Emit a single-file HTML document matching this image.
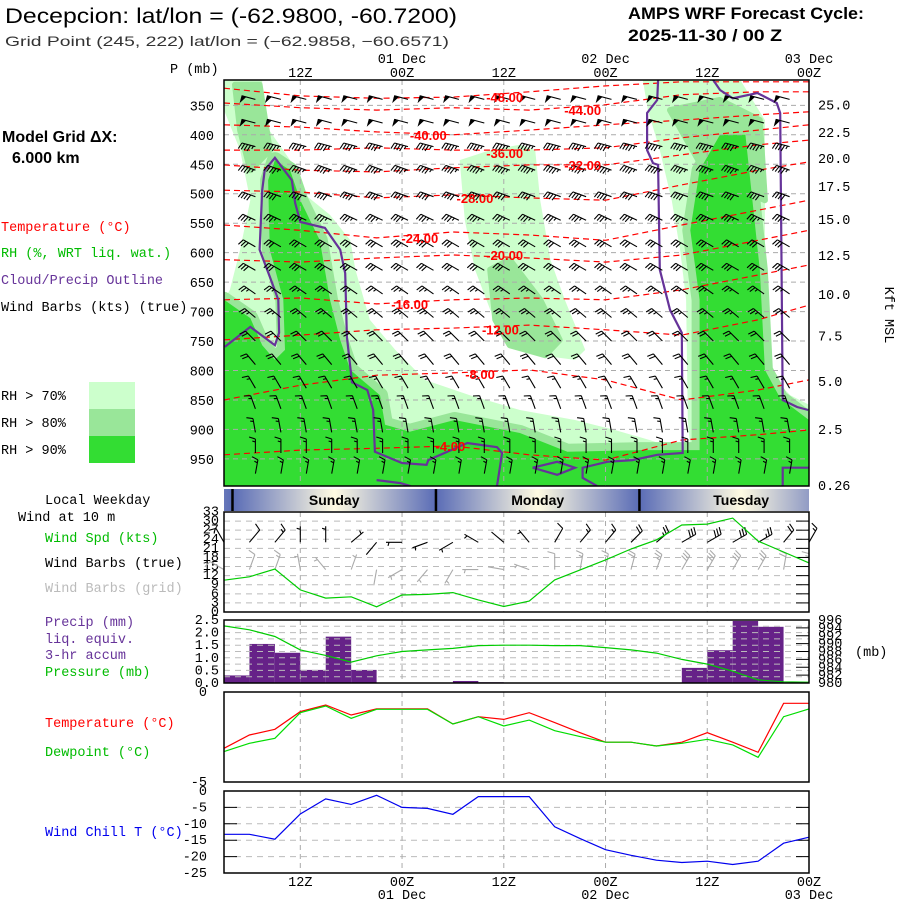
<!DOCTYPE html>
<html><head><meta charset="utf-8"><title>AMPS WRF Meteogram Decepcion</title>
<style>
html,body{margin:0;padding:0;background:#fff;}
svg{display:block;}
.m{font-family:"Liberation Mono","DejaVu Sans Mono",monospace;font-size:13.5px;}
.s{font-family:"Liberation Sans",sans-serif;}
</style></head>
<body>
<svg id="chart" xmlns="http://www.w3.org/2000/svg" width="900" height="900" viewBox="0 0 900 900">
<defs>
<linearGradient id="dayGrad" x1="0" x2="1" y1="0" y2="0">
<stop offset="0" stop-color="#5a6cb6"/><stop offset="0.5" stop-color="#fffbe2"/><stop offset="1" stop-color="#5a6cb6"/>
</linearGradient>
<clipPath id="mainClip"><rect x="224" y="80" width="585" height="406"/></clipPath>
<clipPath id="dayClip"><rect x="224" y="489" width="585" height="22"/></clipPath>
</defs>
<text class="s" x="5" y="23" font-size="21" textLength="452" lengthAdjust="spacingAndGlyphs">Decepcion:  lat/lon = (-62.9800, -60.7200)</text>
<text class="s" x="5" y="46" font-size="14" fill="#333" textLength="444" lengthAdjust="spacingAndGlyphs">Grid Point (245, 222) lat/lon = (−62.9858, −60.6571)</text>
<text class="s" x="628" y="19" font-size="17" font-weight="bold" textLength="236" lengthAdjust="spacingAndGlyphs">AMPS WRF Forecast Cycle:</text>
<text class="s" x="628" y="41" font-size="17" font-weight="bold" textLength="154" lengthAdjust="spacingAndGlyphs">2025-11-30 / 00  Z</text>
<text class="m" x="170" y="73" font-size="12">P (mb)</text>
<text x="2" y="142" font-size="16" font-weight="bold" style="font-family:'Liberation Sans',sans-serif">Model Grid ΔX:</text>
<text x="12" y="163" font-size="16" font-weight="bold" style="font-family:'Liberation Sans',sans-serif">6.000 km</text>
<text class="m" x="1" y="231" fill="#ff0000">Temperature (°C)</text>
<text class="m" x="1" y="257" fill="#00bb00">RH (%, WRT liq. wat.)</text>
<text class="m" x="1" y="284" fill="#663399">Cloud/Precip Outline</text>
<text class="m" x="1" y="311" fill="#000">Wind Barbs (kts) (true)</text>
<rect x="89" y="382" width="46" height="27" fill="#ccffcc"/>
<rect x="89" y="409" width="46" height="27" fill="#99e699"/>
<rect x="89" y="436" width="46" height="27" fill="#33dd33"/>
<text class="m" x="1" y="400">RH &gt; 70%</text>
<text class="m" x="1" y="427">RH &gt; 80%</text>
<text class="m" x="1" y="454">RH &gt; 90%</text>
<text class="m" x="885" y="315" font-size="12" transform="rotate(90 885 315)" text-anchor="middle">Kft MSL</text>
<text class="m" x="45" y="504">Local Weekday</text>
<text class="m" x="18" y="521" font-size="10">Wind at 10 m</text>
<text class="m" x="45" y="542" fill="#00bb00">Wind Spd (kts)</text>
<text class="m" x="45" y="567">Wind Barbs (true)</text>
<text class="m" x="45" y="592" fill="#bbbbbb">Wind Barbs (grid)</text>
<text class="m" x="45" y="626" fill="#663399">Precip (mm)</text>
<text class="m" x="45" y="643" fill="#663399">liq. equiv.</text>
<text class="m" x="45" y="659" fill="#663399">3-hr accum</text>
<text class="m" x="45" y="676" fill="#00bb00">Pressure (mb)</text>
<text class="m" x="855" y="656">(mb)</text>
<text class="m" x="45" y="727" fill="#ff0000">Temperature (°C)</text>
<text class="m" x="45" y="756" fill="#00bb00">Dewpoint (°C)</text>
<text class="m" x="45" y="836" fill="#0000ee">Wind Chill T (°C)</text>
<g id="plots"></g>
</svg>
<script>
// ---- data ----
const hours=[3,6,9,12,15,18,21,24,27,30,33,36,39,42,45,48,51,54,57,60,63,66,69,72];
const timeTickHours=[12,24,36,48,60,72];
const timeTickLabels=["12Z","00Z","12Z","00Z","12Z","00Z"];
const dateTickHours=[24,48,72];
const dateTickLabels=["01 Dec","02 Dec","03 Dec"];
const pressureTicks=[350,400,450,500,550,600,650,700,750,800,850,900,950];
const heightLabels=["25.0","22.5","20.0","17.5","15.0","12.5","10.0","7.5","5.0","2.5","0.26"];
const heightPressures=[349,395,439,487,543,604,670,741,818,899,994];
const rh70=[[[3,307],[7.5,307],[7.5,375],[10.8,443],[12.6,502],[15.5,536],[17.9,579],[18.5,629],[20.2,714],[23.2,765],[26.7,816],[32,842],[37.9,867],[44.4,884],[49.1,901],[53.2,918],[56.8,935],[58,931],[57.7,884],[57.5,680],[56.8,595],[55.8,511],[54.4,426],[53,358],[52.4,307],[63.9,307],[66.8,375],[66.8,799],[69.8,842],[72,858],[72,996],[3,996],[3,680],[3.7,663],[4.9,595],[6.1,511],[4.9,426],[3,358]],
 [[30.8,443],[34.4,426],[37.9,417],[39.7,426],[40.3,511],[41.5,612],[43.2,680],[45.6,765],[44.4,782],[40.3,774],[36.7,748],[34.4,697],[32.6,629],[31.4,545]]];
const rh80=[[[4.3,315],[7.2,315],[8.4,426],[6.1,460],[4.9,392]],
 [[34.4,629],[36.7,612],[40.3,680],[42.6,748],[40.9,774],[36.7,757],[35,714]],
 [[55.6,358],[61.5,341],[66.2,375],[66.8,511],[60,470]]];
const rh90=[[[3,680],[6.1,711],[7.5,757],[9,782],[10.2,765],[10,680],[8.4,595],[8.2,477],[9,443],[10.8,460],[12,511],[14.3,579],[15.5,680],[16.7,748],[17.9,799],[21.4,842],[22,892],[24.9,904],[30.2,884],[37.9,906],[43.5,938],[52.1,935],[59.1,935],[59.1,680],[58,562],[59.1,460],[61.5,400],[64.5,400],[66.2,629],[66.8,799],[68.6,847],[72,884],[72,996],[3,996]]];
const cloudOutlines=[
 [[3.1,760],[6.1,726],[9,757],[9.5,736],[9.4,680],[8.4,641],[7.2,595],[7.5,494],[7.8,460],[9,439],[11,477],[11.4,516],[12,548],[14.9,558],[16.7,595],[17.3,635],[17.5,743],[18.1,820],[19.9,833],[20.6,867],[20.8,938],[24,957],[26.9,960],[27.1,952],[31.7,923],[35.2,930],[35.8,940],[35.2,996]],
 [[21,986],[23.8,991],[25,996]],
 [[54.2,307],[54.1,341],[52.9,363],[52.9,426],[53.6,448],[54.2,451],[54.4,629],[55.6,697],[57,736],[57.1,940],[54.1,943],[51.2,952],[48.2,955],[45.3,965],[45.3,982],[47,996]],
 [[39.4,965],[42.3,955],[44.4,965],[42.3,977],[39.4,965]],
 [[60.7,307],[61.5,324],[63,338],[65.9,329],[68.2,346],[68.6,363],[68.9,850],[70.6,862],[71.9,867]],
 [[68.9,996],[68.9,965],[72,965]]];
const isoHours=[3,12,21,30,39,48,57,66,72];
const iso48=[321,334,338,336,327,317,310,310,310];
const iso44=[346,354,358,354,358,349,332,327,327];
const iso40=[383,387,395,400,392,383,375,366,361];
const iso36=[426,426,422,426,426,422,405,392,383];
const iso32=[451,460,463,456,451,451,434,417,409];
const iso28=[494,497,507,502,507,511,485,460,446];
const iso24=[553,562,575,565,570,579,553,528,511];
const iso20=[612,616,609,604,609,616,604,579,562];
const iso16=[680,677,687,680,677,680,663,638,621];
const iso12=[748,740,731,728,723,731,740,714,689];
const iso08=[850,825,808,804,799,816,850,833,816];
const iso04=[943,935,932,928,943,952,918,909,901];
const isoLabels=["-48.00","-44.00","-40.00","-36.00","-32.00","-28.00","-24.00","-20.00","-16.00","-12.00","-8.00","-4.00"];
const isoLabelHours=[36.1,45.3,27.1,36.1,45.3,32.6,26.1,36.1,24.9,35.6,33.2,29.7];
const isoLabelPres=[336,358,400,431,451,507,575,604,687,730,806,928];
const barbLevels=[340,380,420,460,505,545,590,630,670,710,750,790,830,865,905,940,975];
const barbSpeed=[50,50,45,45,40,35,30,30,25,25,20,20,15,15,15,15,15];
const barbDir=[285,285,285,290,290,295,300,300,305,310,315,320,330,340,350,0,10];
const weekdayNames=["Sunday","Monday","Tuesday"];
const weekdayStartHours=[4,28,52];
const windSpeed=[10.5,11.6,14.2,7.3,4.6,5,1.7,5.6,5.8,6.4,4,1.8,3.6,10.6,13.9,17.2,20.8,23.8,28.7,29,31,23.4,19.8,16.2];
const windDirTrue=[330,40,40,0,0,50,220,270,250,240,300,310,320,30,40,40,45,50,60,60,60,60,40,30];
const windDirGrid=[300,20,20,350,320,20,190,240,220,210,270,280,290,0,10,10,15,20,30,30,30,30,10,0];
const windTicks=[0,3,6,9,12,15,18,21,24,27,30,33];
const precip=[0.3,1.55,1.2,0.52,1.84,0.52,0,0,0,0.08,0.03,0,0,0,0,0,0,0,0.6,1.3,2.46,2.23,0];
const pressure=[994.5,993.5,991.8,988.4,987,985.3,986.9,988,988.4,988.8,989.5,989.6,989.6,989.5,989.5,989,988.4,987.6,986,984.8,983,980.8,980.3,980.2];
const precipTicks=["0.0","0.5","1.0","1.5","2.0","2.5"];
const pressureTickLabels=[980,982,984,986,988,990,992,994,996];
const temperature=[-3.13,-2.39,-2.07,-1.09,-0.72,-1.28,-0.94,-0.94,-0.94,-1.78,-1.37,-1.52,-1.15,-1.7,-2.26,-2.79,-2.79,-3.0,-2.79,-2.26,-2.79,-3.35,-0.63,-0.63];
const dewpoint=[-3.31,-2.85,-2.57,-1.15,-0.78,-1.46,-0.96,-0.96,-0.96,-1.78,-1.37,-1.89,-1.56,-2.15,-2.48,-2.79,-2.79,-3.0,-2.85,-2.63,-2.94,-3.63,-1.37,-0.94];
const windChill=[-13.2,-13.2,-14.7,-7,-2.4,-4.1,-1.3,-5,-5.3,-7.1,-1.7,-1.7,-1.7,-10.9,-14.5,-17.9,-19.6,-21.1,-21.8,-21.4,-22.4,-21.4,-15.9,-14.1];
const chillTicks=[0,-5,-10,-15,-20,-25];

// ---- axes ----
const X0=224,X1=809;
const xOf=h=>X0+(h-3)*(X1-X0)/69;
const yP=p=>80+(p-307)*(406/689);
const yWind=v=>612-v*100/33;
const yPrecip=v=>683-v*63/2.5;
const yPres=v=>683-(v-980)*63/16;
const yTemp=v=>692+(v/-5)*90;
const yChill=v=>791+(v/-25)*82;

const NS="http://www.w3.org/2000/svg";
const root=document.getElementById('plots');
function mk(tag,attrs,parent){const e=document.createElementNS(NS,tag);for(const k in attrs)e.setAttribute(k,attrs[k]);(parent||root).appendChild(e);return e;}
function grp(parent){return mk('g',{},parent);}
const ptsStr=(arr)=>arr.map(q=>xOf(q[0]).toFixed(1)+','+yP(q[1]).toFixed(1)).join(' ');

// ---- main cross-section ----
const main=grp();


const mainBody=mk('g',{'clip-path':'url(#mainClip)'},main);


rh70.forEach(poly=>{const e=mk('polygon',{points:ptsStr(poly),fill:'#ccffcc'},mainBody);

});
rh90.forEach(poly=>{const e=mk('polygon',{points:ptsStr(poly),fill:'#99e699',stroke:'#99e699','stroke-width':16,'stroke-linejoin':'round'},mainBody);

});
rh80.forEach(poly=>{const e=mk('polygon',{points:ptsStr(poly),fill:'#99e699',stroke:'#99e699','stroke-width':6,'stroke-linejoin':'round'},mainBody);

});
rh90.forEach(poly=>{const e=mk('polygon',{points:ptsStr(poly),fill:'#33dd33'},mainBody);

});
pressureTicks.forEach(p=>{const e=mk('line',{x1:X0,x2:X1,y1:yP(p),y2:yP(p),stroke:'#aaa','stroke-dasharray':'5,4','stroke-width':1},mainBody);

});
timeTickHours.forEach(h=>{const e=mk('line',{x1:xOf(h),x2:xOf(h),y1:80,y2:486,stroke:'#aaa','stroke-dasharray':'5,4','stroke-width':1},mainBody);

});
const isos=[iso48,iso44,iso40,iso36,iso32,iso28,iso24,iso20,iso16,iso12,iso08,iso04];
isos.forEach(arr=>{const e=mk('polyline',{points:arr.map((p,i)=>xOf(isoHours[i]).toFixed(1)+','+yP(p).toFixed(1)).join(' '),fill:'none',stroke:'#ff0000','stroke-width':1.2,'stroke-dasharray':'6,4'},mainBody);

});
cloudOutlines.forEach(arr=>{const e=mk('polyline',{points:ptsStr(arr),fill:'none',stroke:'#663399','stroke-width':2.2},mainBody);

});
function barb(parent,x,y,dir,spd,color,L){
  const r=dir*Math.PI/180,ux=Math.sin(r),uy=-Math.cos(r),px=uy,py=-ux;
  let d='M'+x.toFixed(1)+' '+y.toFixed(1)+'L'+(x+ux*L).toFixed(1)+' '+(y+uy*L).toFixed(1);
  let s=Math.round(spd/5)*5,pos=L;const fl=L*0.45;
  let fills='';
  while(s>=50){const ax=x+ux*pos,ay=y+uy*pos,bx=x+ux*(pos-4),by=y+uy*(pos-4);
    fills+='M'+ax.toFixed(1)+' '+ay.toFixed(1)+'L'+(ax+px*fl).toFixed(1)+' '+(ay+py*fl).toFixed(1)+'L'+bx.toFixed(1)+' '+by.toFixed(1)+'Z';pos-=5;s-=50;}
  while(s>=10){const ax=x+ux*pos,ay=y+uy*pos;d+='M'+ax.toFixed(1)+' '+ay.toFixed(1)+'l'+(px*fl+ux*2).toFixed(1)+' '+(py*fl+uy*2).toFixed(1);pos-=3;s-=10;}
  if(s>=5){if(pos===L)pos-=3;const ax=x+ux*pos,ay=y+uy*pos;d+='M'+ax.toFixed(1)+' '+ay.toFixed(1)+'l'+(px*fl*0.5+ux).toFixed(1)+' '+(py*fl*0.5+uy).toFixed(1);}
  const e=mk('path',{d:d,stroke:color,'stroke-width':1.1,fill:'none'},parent);
  
  
  if(fills){const f=mk('path',{d:fills,fill:color,stroke:color,'stroke-width':0.8},parent);
  
  }
}
const barbG=grp(mainBody);


for(let i=1;i<hours.length-1;i++){barbLevels.forEach((p,k)=>barb(barbG,xOf(hours[i])+6,yP(p),barbDir[k],barbSpeed[k],'#000',14));}
isoLabels.forEach((t,i)=>{const e=mk('text',{x:xOf(isoLabelHours[i]),y:yP(isoLabelPres[i])+5,'text-anchor':'middle',fill:'#ff0000','font-size':13,'font-weight':'bold','font-family':'Liberation Sans, sans-serif'},mainBody);e.textContent=t;

});
const mf=mk('rect',{x:X0,y:80,width:X1-X0,height:406,fill:'none',stroke:'#000','stroke-width':1.5},main);


pressureTicks.forEach(p=>{const e=mk('text',{x:214,y:yP(p)+5,'text-anchor':'end',class:'m'},main);e.textContent=p;

});
heightLabels.forEach((t,i)=>{const e=mk('text',{x:818,y:yP(heightPressures[i])+5,class:'m'},main);e.textContent=t;

});
timeTickHours.forEach((h,i)=>{const e=mk('text',{x:xOf(h),y:77,'text-anchor':'middle',class:'m','font-size':12.5},main);e.textContent=timeTickLabels[i];


const b=mk('text',{x:xOf(h),y:886,'text-anchor':'middle',class:'m','font-size':12.5},root);b.textContent=timeTickLabels[i];

});
dateTickHours.forEach((h,i)=>{const e=mk('text',{x:xOf(h),y:63,'text-anchor':'middle',class:'m','font-size':12.5},main);e.textContent=dateTickLabels[i];


const b=mk('text',{x:xOf(h),y:899,'text-anchor':'middle',class:'m','font-size':12.5},root);b.textContent=dateTickLabels[i];

});

// ---- weekday bar ----
const dayG=mk('g',{'clip-path':'url(#dayClip)'});


const prevStart=weekdayStartHours[0]-24;
[prevStart].concat(weekdayStartHours).forEach(h=>{const e=mk('rect',{x:xOf(h),y:489,width:xOf(h+24)-xOf(h),height:22,fill:'url(#dayGrad)'},dayG);

});
weekdayStartHours.forEach((h,i)=>{const l=mk('line',{x1:xOf(h),x2:xOf(h),y1:489,y2:511,stroke:'#000','stroke-width':2.5},dayG);


const t=mk('text',{x:xOf(h+12),y:505,'text-anchor':'middle','font-size':14,'font-weight':'bold','font-family':'Liberation Sans, sans-serif'},dayG);t.textContent=weekdayNames[i];

});

function vgrid(parent,y0,y1){timeTickHours.slice(0,5).forEach(h=>{const e=mk('line',{x1:xOf(h),x2:xOf(h),y1:y0,y2:y1,stroke:'#aaa','stroke-dasharray':'5,4'},parent);

});}
function hline(parent,y,ticks){const e=mk('line',{x1:X0,x2:X1,y1:y,y2:y,stroke:'#bbb','stroke-dasharray':'6,5'},parent);


if(ticks){const t=mk('path',{d:'M'+X0+' '+y+'h13M'+X1+' '+y+'h-13',stroke:'#000'},parent);

}}
function frame(parent,y0,y1){const e=mk('rect',{x:X0,y:y0,width:X1-X0,height:y1-y0,fill:'none',stroke:'#000','stroke-width':1.5},parent);

}
function series(parent,vals,yf,color,name){const e=mk('polyline',{points:vals.map((v,i)=>xOf(hours[i]).toFixed(1)+','+yf(v).toFixed(1)).join(' '),fill:'none',stroke:color,'stroke-width':1.2},parent);

}

// ---- wind panel ----
const wG=grp();


windTicks.slice(1,11).forEach(v=>hline(wG,yWind(v),false));
windTicks.slice(1,11).forEach(v=>{const t=mk('line',{x1:X1-13,x2:X1,y1:yWind(v),y2:yWind(v),stroke:'#000'},wG);

});
vgrid(wG,512,612);
windTicks.forEach(v=>{const e=mk('text',{x:219,y:yWind(v)+3.5,'text-anchor':'end',class:'m','font-size':10.5},wG);e.textContent=v;

});
hours.forEach((h,i)=>{barb(wG,xOf(h),yWind(14),windDirGrid[i],windSpeed[i],'#aaaaaa',16);
barb(wG,xOf(h),yWind(23),windDirTrue[i],windSpeed[i],'#000',16);});
series(wG,windSpeed,yWind,'#00cc00','wind-speed-line');
frame(wG,512,612);

// ---- precip / pressure panel ----
const pG=grp();


precip.forEach((v,i)=>{if(v<=0)return;const e=mk('rect',{x:xOf(hours[i]),y:yPrecip(v),width:xOf(hours[i+1])-xOf(hours[i]),height:683-yPrecip(v),fill:'#662288'},pG);

});
[0.25,0.5,0.75,1,1.25,1.5,1.75,2,2.25].forEach(v=>hline(pG,yPrecip(v),false));
pressureTickLabels.slice(1,8).forEach(v=>{const t=mk('line',{x1:X1-13,x2:X1,y1:yPres(v),y2:yPres(v),stroke:'#000'},pG);

});
vgrid(pG,620,683);
precipTicks.forEach(t=>{const e=mk('text',{x:219,y:yPrecip(+t)+4,'text-anchor':'end',class:'m','font-size':12},pG);e.textContent=t;

});
pressureTickLabels.forEach(v=>{const e=mk('text',{x:818,y:yPres(v)+4,class:'m','font-size':10.5},pG);e.textContent=v;

});
series(pG,pressure,yPres,'#00cc00','pressure-line');
frame(pG,620,683);

// ---- temperature panel ----
const tG=grp();


vgrid(tG,692,782);
series(tG,temperature,yTemp,'#ff0000','temperature-line');
series(tG,dewpoint,yTemp,'#00dd00','dewpoint-line');
frame(tG,692,782);
[0,-5].forEach(v=>{const e=mk('text',{x:207,y:yTemp(v)+4,'text-anchor':'end',class:'m','font-size':11},tG);e.textContent=v;

});

// ---- wind chill panel ----
const cG=grp();


chillTicks.slice(1,5).forEach(v=>hline(cG,yChill(v),true));
vgrid(cG,791,873);
chillTicks.forEach(v=>{const e=mk('text',{x:207,y:yChill(v)+4,'text-anchor':'end',class:'m','font-size':11},cG);e.textContent=v;

});
series(cG,windChill,yChill,'#0000ee','wind-chill-line');
frame(cG,791,873);
</script>
</body></html>
